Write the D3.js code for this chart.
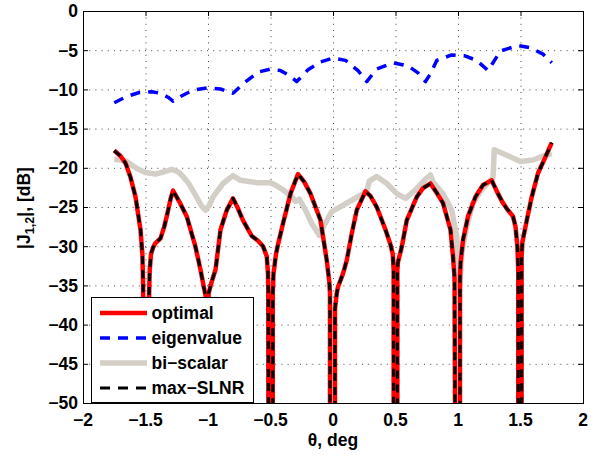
<!DOCTYPE html>
<html><head><meta charset="utf-8">
<script src="https://cdn.jsdelivr.net/npm/d3@7"></script>
<style>
html,body{margin:0;padding:0;background:#fff;}
svg text{font-family:"Liberation Sans",Arial,sans-serif;font-weight:bold;fill:#000;}
</style></head>
<body><svg id="c" width="600" height="456"></svg>
<script>
// ---- data ----
const xTicks = [-2,-1.5,-1,-0.5,0,0.5,1,1.5,2];
const xTickLabels = ["\u22122","\u22121.5","\u22121","\u22120.5","0","0.5","1","1.5","2"];
const yTicks = [0,-5,-10,-15,-20,-25,-30,-35,-40,-45,-50];
const yTickLabels = ["0","\u22125","\u221210","\u221215","\u221220","\u221225","\u221230","\u221235","\u221240","\u221245","\u221250"];
const seriesNames = ["optimal","eigenvalue","bi\u2212scalar","max\u2212SLNR"];

const eigTheta = [-1.75,-1.65,-1.55,-1.45,-1.38,-1.32,-1.28,-1.22,-1.12,-1.0,-0.9,-0.8,-0.72,-0.6,-0.5,-0.42,-0.35,-0.29,-0.2,-0.1,0.0,0.1,0.2,0.27,0.35,0.48,0.6,0.68,0.74,0.78,0.83,0.95,1.05,1.15,1.24,1.28,1.34,1.48,1.58,1.68,1.75];
const eigenvalue = [-11.7,-10.9,-10.4,-10.3,-10.5,-11.0,-11.5,-10.9,-10.1,-9.8,-9.95,-10.5,-9.3,-7.8,-7.4,-7.6,-8.2,-9.0,-7.5,-6.5,-6.0,-6.3,-7.6,-9.0,-7.4,-6.6,-7.0,-7.9,-9.0,-8.0,-6.3,-5.6,-5.7,-6.3,-7.6,-6.6,-5.1,-4.4,-4.7,-5.5,-6.6];

const optTheta = [-1.75,-1.70,-1.66,-1.62,-1.58,-1.54,-1.525,-1.519,-1.518,-1.495,-1.472,-1.471,-1.466,-1.456,-1.44,-1.42,-1.38,-1.35,-1.33,-1.30,-1.28,-1.23,-1.17,-1.10,-1.06,-1.03,-1.01,-1.008,-1.005,-1.0,-0.995,-0.97,-0.94,-0.90,-0.85,-0.80,-0.76,-0.72,-0.65,-0.60,-0.56,-0.53,-0.52,-0.518,-0.517,-0.50,-0.482,-0.482,-0.476,-0.456,-0.44,-0.40,-0.34,-0.28,-0.23,-0.18,-0.10,-0.05,-0.03,-0.024,-0.024,-0.004,0.016,0.016,0.03,0.04,0.08,0.11,0.15,0.19,0.26,0.30,0.35,0.42,0.46,0.478,0.485,0.485,0.50,0.515,0.515,0.52,0.55,0.59,0.67,0.72,0.78,0.83,0.88,0.94,0.96,0.972,0.976,0.996,1.016,1.016,1.02,1.04,1.08,1.14,1.20,1.27,1.32,1.36,1.39,1.44,1.46,1.475,1.482,1.482,1.495,1.509,1.509,1.515,1.55,1.59,1.64,1.70,1.75];
const optimal = [-17.8,-18.5,-19.4,-21.2,-23.7,-27.9,-31,-35,-50,-90,-50,-36,-33,-31,-30.2,-29.6,-29.0,-27.5,-26.2,-24,-22.9,-24.3,-26.2,-30.1,-33.0,-35.5,-37,-50,-90,-50,-36,-34.5,-33,-27.9,-25.4,-23.9,-25.2,-26.7,-28.7,-29.3,-30.0,-31.3,-33.5,-36,-50,-90,-50,-36,-33.5,-31,-29.8,-27.1,-23.3,-20.8,-21.8,-23.3,-26.7,-31.8,-34.5,-36,-50,-90,-50,-38,-36,-35.2,-33.5,-31.8,-28.4,-25.4,-23.0,-23.6,-25.0,-27.9,-29.8,-31,-33,-50,-90,-50,-33,-32,-30.1,-26.7,-23.7,-22.6,-22.0,-23.2,-24.5,-27.9,-31.3,-34,-50,-90,-50,-34,-32.2,-29.2,-26.2,-23.7,-22.2,-21.6,-23.3,-24.5,-25.2,-26.2,-27.5,-30,-33,-50,-90,-50,-31.3,-29.5,-26.7,-23.7,-20.7,-18.6,-16.8];
const maxSLNR = optimal.slice();

const biTheta = [-1.75,-1.66,-1.57,-1.50,-1.42,-1.35,-1.29,-1.24,-1.20,-1.15,-1.10,-1.05,-1.02,-0.99,-0.96,-0.88,-0.80,-0.74,-0.61,-0.50,-0.45,-0.40,-0.33,-0.30,-0.27,-0.22,-0.17,-0.11,-0.07,-0.01,0.11,0.22,0.27,0.29,0.35,0.43,0.51,0.58,0.66,0.75,0.78,0.80,0.88,0.95,0.99,1.01,1.03,1.07,1.12,1.19,1.26,1.28,1.29,1.39,1.50,1.60,1.68,1.75];
const biScalar = [-18.9,-19.1,-20.1,-20.6,-20.8,-20.5,-20.2,-20.5,-21.1,-22.1,-23.5,-24.9,-25.4,-24.8,-23.7,-22.0,-21.0,-21.6,-21.9,-21.9,-22.3,-22.8,-23.7,-24.3,-24.0,-25.4,-27.1,-28.6,-27.3,-25.6,-24.5,-23.5,-23.0,-21.7,-21.1,-22.0,-23.3,-23.9,-22.8,-21.3,-20.9,-21.8,-23.3,-25.4,-28.8,-36,-30.9,-27.5,-24.5,-22.8,-21.6,-21.3,-17.7,-18.4,-19.2,-19.0,-18.5,-18.2];

// ---- drawing ----
const svg = d3.select("#c");
const L = 83, R = 583, T = 11, B = 403;
const x = d3.scaleLinear().domain([-2,2]).range([L,R]);
const y = d3.scaleLinear().domain([-50,0]).range([B,T]);
const fs = 17.5;

svg.append("defs").append("clipPath").attr("id","clip")
  .append("rect").attr("x",L).attr("y",T).attr("width",R-L).attr("height",B-T);

// grid
const grid = svg.append("g").attr("stroke","#444").attr("stroke-width",1).attr("stroke-dasharray","1,5.2");
xTicks.slice(1,-1).forEach(v=>grid.append("line").attr("x1",x(v)+0.5).attr("x2",x(v)+0.5).attr("y1",B).attr("y2",T));
yTicks.slice(1,-1).forEach(v=>grid.append("line").attr("y1",y(v)+0.5).attr("y2",y(v)+0.5).attr("x1",L).attr("x2",R));

// axes (box + inward ticks)
const ax = svg.append("g");
ax.append("rect").attr("x",L+0.5).attr("y",T+0.5).attr("width",R-L).attr("height",B-T).attr("fill","none").attr("stroke","#000").attr("stroke-width",1);
const tk = ax.append("g").attr("stroke","#000").attr("stroke-width",1);
xTicks.forEach(v=>{
  tk.append("line").attr("x1",x(v)+0.5).attr("x2",x(v)+0.5).attr("y1",B).attr("y2",B-5);
  tk.append("line").attr("x1",x(v)+0.5).attr("x2",x(v)+0.5).attr("y1",T).attr("y2",T+5);
});
yTicks.forEach(v=>{
  tk.append("line").attr("y1",y(v)+0.5).attr("y2",y(v)+0.5).attr("x1",L).attr("x2",L+5);
  tk.append("line").attr("y1",y(v)+0.5).attr("y2",y(v)+0.5).attr("x1",R).attr("x2",R-5);
});
xTicks.forEach((v,i)=>ax.append("text").attr("x",x(v)).attr("y",B+22.5).attr("text-anchor","middle").attr("font-size",fs).text(xTickLabels[i]));
yTicks.forEach((v,i)=>ax.append("text").attr("x",L-5).attr("y",y(v)+6.3).attr("text-anchor","end").attr("font-size",fs).text(yTickLabels[i]));

// labels
const yl = svg.append("text").attr("transform","translate(30,208) rotate(-90)").attr("text-anchor","middle").attr("font-size",fs);
yl.append("tspan").text("|J");
yl.append("tspan").attr("font-size",fs*0.72).attr("dy",4).text("1,2");
yl.append("tspan").attr("dy",-4).text("|, [dB]");
svg.append("text").attr("x",333).attr("y",446).attr("text-anchor","middle").attr("font-size",fs).text("\u03b8, deg");

// series
const plot = svg.append("g").attr("clip-path","url(#clip)");
const line = d3.line().x(d=>x(d[0])).y(d=>y(d[1]));
const zip = (a,b)=>a.map((v,i)=>[v,b[i]]);
const styles = [
  {stroke:"#ff0000", w:4.5, dash:null},
  {stroke:"#0000ff", w:3.5, dash:"10,8"},
  {stroke:"#d3cfc7", w:5.5, dash:null},
  {stroke:"#000000", w:3, dash:"8,6"}
];
function draw(data, s){
  plot.append("path").attr("d",line(data)).attr("fill","none").attr("stroke",s.stroke)
    .attr("stroke-width",s.w).attr("stroke-dasharray",s.dash).attr("stroke-linejoin","round");
}
draw(zip(eigTheta,eigenvalue), styles[1]);
draw(zip(biTheta,biScalar), styles[2]);
draw(zip(optTheta,optimal), styles[0]);
draw(zip(optTheta,maxSLNR), styles[3]);

// legend
const lg = svg.append("g");
lg.append("rect").attr("x",91.5).attr("y",297.5).attr("width",162).attr("height",105).attr("fill","#fff").attr("stroke","#000").attr("stroke-width",1);
const legDash = ["", "10,8", "", "10,8"];
seriesNames.forEach((n,i)=>{
  const yy = 313 + i*25;
  const s = styles[i];
  lg.append("line").attr("x1",100).attr("x2",147).attr("y1",yy).attr("y2",yy).attr("stroke",s.stroke)
    .attr("stroke-width",s.w).attr("stroke-dasharray",legDash[i] || null);
  lg.append("text").attr("x",151.5).attr("y",yy+6.3).attr("font-size",fs).text(n);
});
</script></body></html>
